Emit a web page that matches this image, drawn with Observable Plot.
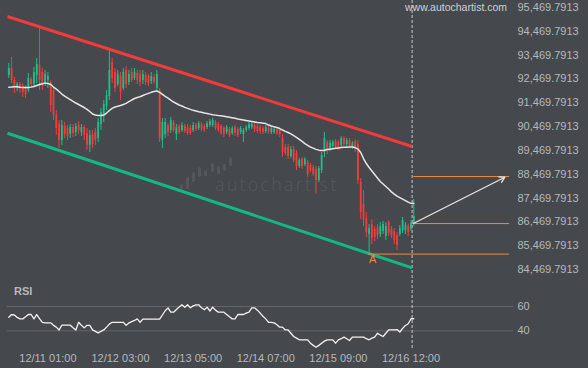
<!DOCTYPE html>
<html><head><meta charset="utf-8">
<script src="https://cdn.jsdelivr.net/npm/d3@7"></script>
<script src="https://cdn.jsdelivr.net/npm/@observablehq/plot@0.6"></script>
<style>
html,body{margin:0;padding:0;background:#45484d;}
#wrap{position:relative;width:588px;height:368px;overflow:hidden;background:#45484d;font-family:"Liberation Sans",Arial,sans-serif;}
#main{position:absolute;left:0;top:0;}
#rsi{position:absolute;left:0;top:280px;}
#wm{position:absolute;left:178px;top:155px;width:170px;height:40px;}
#wmtext{position:absolute;left:37px;top:17px;font-family:"Open Sans",sans-serif;font-weight:300;font-size:18px;letter-spacing:2.2px;color:#55595e;}
#site{position:absolute;left:405px;top:1px;font-size:10.5px;letter-spacing:0px;color:#cfd1d3;}
#rsiTitle{position:absolute;left:14px;top:285px;font-size:11px;font-weight:bold;color:#b6b9bc;}
</style></head>
<body><div id="wrap">
<div id="wm"><svg width="60" height="40" style="position:absolute;left:0;top:0">
<g fill="#54585d">
<rect x="2" y="29" width="3" height="5" rx="1.5"/><rect x="8" y="22" width="3" height="12" rx="1.5"/>
<rect x="14" y="17" width="3" height="10" rx="1.5"/><rect x="20" y="12" width="3" height="10" rx="1.5"/>
<rect x="26" y="15" width="3" height="6" rx="1.5"/><rect x="33" y="8" width="3" height="9" rx="1.5"/>
<rect x="39" y="11" width="3" height="8" rx="1.5"/><rect x="45" y="9" width="3" height="7" rx="1.5"/>
<rect x="51" y="2" width="3" height="9" rx="1.5"/></g></svg>
<div id="wmtext">autochartist</div></div>
<div id="main"></div><div id="rsi"></div>
<div id="site">www.autochartist.com</div>
<div id="rsiTitle">RSI</div>
</div>
<script>
// ---- data (hourly candles, 12/10 11:00 .. 12/16 12:00) ----
const open = [92614,92908,92404,92068,92236,92152,92068,91984,92446,92236,
92614,93034,92740,92236,92404,92320,91984,90934,90556,89884,
90472,90388,90136,90430,90220,90514,90220,90430,90178,89674,
90136,90220,89968,90556,90976,91312,91732,93160,92740,92236,
92572,92068,92824,92320,92740,92488,92698,92656,92404,92614,
92572,92362,92530,92068,91984,89884,90136,90514,90304,90640,
90136,90472,90304,90472,90430,90388,90304,90514,90388,90556,
90472,90430,90514,90514,90640,90556,90472,90388,90220,90346,
90178,90430,90346,90220,90136,90304,90388,90430,90514,90472,
90430,90388,90262,90388,90220,90220,90346,90304,89968,89590,
89590,89212,89506,89338,88792,89086,88876,88960,88834,88750,
88666,88204,88624,89380,89800,89506,89632,89842,89800,89674,
89968,89716,89884,89590,89842,89716,88120,87196,86608,85936,
86356,86146,86230,85936,86062,85852,86440,86146,86062,85894,
85936,86104,86104,86272,86146,86356];
const high = [93118,93370,92530,92320,92320,92278,92194,92698,92530,92950,
93328,94630,92908,92824,92740,92404,92110,91144,90724,90724,
90640,90514,90556,90556,90598,90682,90556,90514,90388,90304,
90304,90388,90808,91228,91564,91984,93748,93328,92908,92824,
92740,92908,92992,92824,92908,92908,92824,92824,92824,92740,
92656,92740,92656,92824,92068,90808,90808,90598,90850,90724,
90556,90556,90640,90556,90556,90514,90640,90598,90682,90640,
90556,90682,90766,90808,90724,90640,90556,90472,90514,90430,
90472,90514,90430,90472,90388,90514,90640,90640,90598,90556,
90514,90472,90514,90472,90472,90430,90430,90388,90136,89716,
89716,89632,89632,89464,89128,89170,89170,89044,88918,88834,
88792,88792,89380,90220,89884,89884,89884,89926,89884,90052,
90052,89968,89968,89842,89926,89884,88288,87784,86860,86356,
86566,86272,86356,86440,86482,86440,86524,86272,86188,86020,
86314,86650,86440,86356,86524,87406];
const low = [92488,92278,91858,91942,91858,91690,91648,91900,92068,92110,
92278,91984,91984,92152,92068,91060,90724,90094,89548,89674,
89968,89884,89968,90010,90052,90136,90052,89884,89464,89380,
89548,89674,89800,90304,90640,91144,91564,92278,91900,92152,
91564,91984,92068,92194,92320,92404,92236,92152,92236,92194,
92152,92236,92236,91900,89800,89548,89968,90052,90178,90220,
89884,90136,90220,90178,90094,90094,90220,90262,90304,90262,
90220,90346,90430,90430,90304,90220,90094,90010,90136,90010,
90094,90052,90010,90136,89800,90220,90304,90346,90220,90178,
90136,90136,90178,90136,90136,90136,90094,90010,89170,89254,
89086,89128,88960,88624,88708,88666,88792,88330,88540,88372,
87616,88120,88498,89170,89296,89422,89548,89506,89464,89590,
89632,89590,89548,89506,89380,88036,86566,86272,85810,85138,
85516,85642,85726,85810,85936,85684,85852,85768,85516,85264,
85852,85978,85936,85852,86062,86272];
const close = [92908,92404,92068,92236,92068,91900,91816,92488,92236,92740,
93076,92404,92152,92656,92572,91354,90934,90388,89884,90514,
90136,90052,90430,90178,90472,90304,90430,90094,89674,90094,
89716,89884,90640,91060,91396,91774,92824,92488,92068,92656,
91900,92740,92236,92656,92404,92740,92404,92320,92656,92320,
92278,92572,92320,92656,89968,90640,90640,90220,90724,90304,
90430,90220,90514,90262,90178,90178,90514,90346,90598,90346,
90304,90598,90682,90724,90388,90304,90178,90136,90430,90094,
90388,90178,90094,90388,90304,90430,90556,90556,90346,90262,
90262,90220,90430,90220,90388,90346,90178,90136,89380,89338,
89212,89506,89044,88792,89044,88792,89086,88456,88624,88456,
88204,88708,89254,89968,89464,89758,89800,89590,89590,89968,
89716,89884,89632,89758,89506,88204,86860,86524,86020,86188,
85768,85810,85894,86272,86356,86272,85978,85894,85684,85474,
86188,86524,86314,86020,86398,86692];
const movingAvg = [92123,92131,92144,92144,92118,92110,92110,92110,92127,92152,
92194,92236,92270,92295,92278,92236,92131,92047,91942,91837,
91753,91677,91606,91530,91459,91396,91333,91270,91194,91102,
90997,90955,90934,90934,90955,91039,91144,91236,91291,91320,
91354,91396,91446,91514,91585,91648,91690,91724,91774,91824,
91866,91908,91942,91963,91908,91824,91740,91669,91585,91501,
91438,91375,91333,91278,91236,91194,91152,91123,91094,91068,
91039,91018,90993,90968,90951,90934,90921,90900,90879,90858,
90837,90816,90787,90766,90745,90724,90703,90682,90661,90640,
90627,90615,90598,90535,90493,90459,90430,90388,90325,90270,
90220,90165,90094,90018,89934,89850,89758,89682,89611,89565,
89514,89481,89464,89481,89506,89523,89540,89556,89573,89590,
89598,89607,89611,89611,89590,89527,89380,89128,88918,88750,
88603,88456,88309,88162,88057,87952,87847,87729,87637,87553,
87490,87427,87364,87301,87246,87238];
const rsi = [51.2,53.4,53,51,49.8,49.8,51.5,53.4,53.4,49.8,
53.4,50,47,46.6,46.6,46.6,44.5,43,40.7,44.6,
44.6,44.6,44.6,42.5,40.7,47,44.5,42.4,44.5,44.5,
40.7,39.5,38.3,39.5,40.7,43,45.5,47,47,47,
47,47,44.5,46.5,47.6,48.5,49.8,47,49.6,49.6,
49.6,49.6,49.6,49.6,49.6,53,56.5,58.9,55.3,55.3,
57.5,59.5,61.4,59.4,61.4,58.9,60.5,61.4,61.4,58.9,
57.3,59.4,56.3,59.4,57,55.3,55.3,55.3,53.5,51.5,
49.8,49.8,53.4,53.4,53.4,54.5,55.3,58.9,58.9,57,
54.5,52,49.8,47,47,46.5,45,43,43,40.7,
40.7,38,35.3,34,32.6,32.6,32.6,32.6,29.8,28,
26.5,28,29.8,31.5,32.6,32.6,32.6,29.8,32.6,33.5,
34.8,33.5,32,34.8,34.8,34.8,34.8,34.8,33.5,32.6,
34,34.8,38,36.5,35.3,38,40.8,40.8,40.8,41,
39,42,44.4,45.8,49.9,49.9];

const priceTicks = [84469.7913,85469.7913,86469.7913,87469.7913,88469.7913,89469.7913,90469.7913,91469.7913,92469.7913,93469.7913,94469.7913,95469.7913];
const timeTickIndex = [14, 40, 66, 92, 118, 144];
const timeTickLabels = ["12/11 01:00","12/12 03:00","12/13 05:00","12/14 07:00","12/15 09:00","12/16 12:00"];
const rsiLevels = [40, 60];

// channel (resistance / support) end points
const channelX = [-0.47, 144.4];
const channelTop = [95092, 89632];
const channelBottom = [90191, 84537];
// forecast levels
const levelPrice = [88372, 86398, 85117];
const levelStart = [145, 144.2, 128.8];
const levelEnd = 179.3;
// forecast arrow
const arrowFrom = [145, 86411];
const arrowTo = [177.6, 88343];
// pattern point label
const pointLabel = {x: 130.3, y: 84886, text: "A"};
const nowIndex = 144.4;

// ---- drawing ----
const UP = "#1fbf8c", DOWN = "#f23d3d", ORANGE = "#f08a3e", TXT = "#b6b9bc";
const FONT = '"Liberation Sans", Arial, sans-serif';
const N = open.length;
const candles = open.map((o, i) => ({i, o, h: high[i], l: low[i], c: close[i], col: close[i] >= o ? UP : DOWN}));
const maData = movingAvg.map((v, i) => ({i, v}));
const rsiData = rsi.map((v, i) => ({i, v}));
const xRange = [8.3, 413.3];

const main = Plot.plot({
  width: 588, height: 280,
  marginTop: 0, marginRight: 75, marginBottom: 0, marginLeft: 7,
  style: {background: "transparent", color: TXT, fontFamily: FONT, fontSize: "11px", overflow: "visible"},
  x: {domain: [0, N - 1], range: xRange, axis: null},
  y: {domain: [priceTicks[0], priceTicks[priceTicks.length - 1]], range: [269, 7], axis: null},
  marks: [
    Plot.axisY({anchor: "right", ticks: priceTicks, tickSize: 0, tickPadding: 4, tickFormat: d3.format(",.4f"), label: null, fill: TXT}),
    Plot.ruleX([nowIndex], {stroke: "#c9cbcd", strokeWidth: 1, strokeDasharray: "3,2"}),
    Plot.ruleX(candles, {x: "i", y1: "l", y2: "h", stroke: "col", strokeWidth: 1}),
    Plot.ruleX(candles, {x: "i", y1: "o", y2: "c", stroke: "col", strokeWidth: 1.8}),
    Plot.line(maData, {x: "i", y: "v", stroke: "#e6e6e6", strokeWidth: 1.5}),
    Plot.link([0], {x1: () => channelX[0], x2: () => channelX[1], y1: () => channelTop[0], y2: () => channelTop[1], stroke: "#f23b3b", strokeWidth: 3}),
    Plot.link([0], {x1: () => channelX[0], x2: () => channelX[1], y1: () => channelBottom[0], y2: () => channelBottom[1], stroke: "#14b886", strokeWidth: 3}),
    Plot.ruleY(levelPrice.map((p, k) => ({p, a: levelStart[k], b: levelEnd})), {y: "p", x1: "a", x2: "b", stroke: ORANGE, strokeWidth: 1}),
    Plot.arrow([0], {x1: () => arrowFrom[0], y1: () => arrowFrom[1], x2: () => arrowTo[0], y2: () => arrowTo[1], stroke: "#e6e6e6", strokeWidth: 1.3, headLength: 7}),
    Plot.text([pointLabel], {x: "x", y: "y", text: "text", fill: ORANGE, fontSize: 11})
  ]
});
document.getElementById("main").appendChild(main);

const rsiPlot = Plot.plot({
  width: 588, height: 88,
  marginTop: 0, marginRight: 75, marginBottom: 18, marginLeft: 7,
  style: {background: "transparent", color: TXT, fontFamily: FONT, fontSize: "11px", overflow: "visible"},
  x: {domain: [0, N - 1], range: xRange, axis: null},
  y: {domain: rsiLevels, range: [50.3, 26], axis: null},
  marks: [
    Plot.ruleY(rsiLevels, {stroke: "#62666b", strokeWidth: 1}),
    Plot.axisY({anchor: "right", ticks: rsiLevels, tickSize: 0, tickPadding: 4, label: null, fill: TXT}),
    Plot.axisX({ticks: timeTickIndex, tickFormat: d => timeTickLabels[timeTickIndex.indexOf(d)], tickSize: 0, tickPadding: 4, label: null, fill: TXT}),
    Plot.ruleX([nowIndex], {stroke: "#c9cbcd", strokeWidth: 1, strokeDasharray: "3,2"}),
    Plot.line(rsiData, {x: "i", y: "v", stroke: "#f2f2f2", strokeWidth: 1.3})
  ]
});
document.getElementById("rsi").appendChild(rsiPlot);
</script>
</body></html>
